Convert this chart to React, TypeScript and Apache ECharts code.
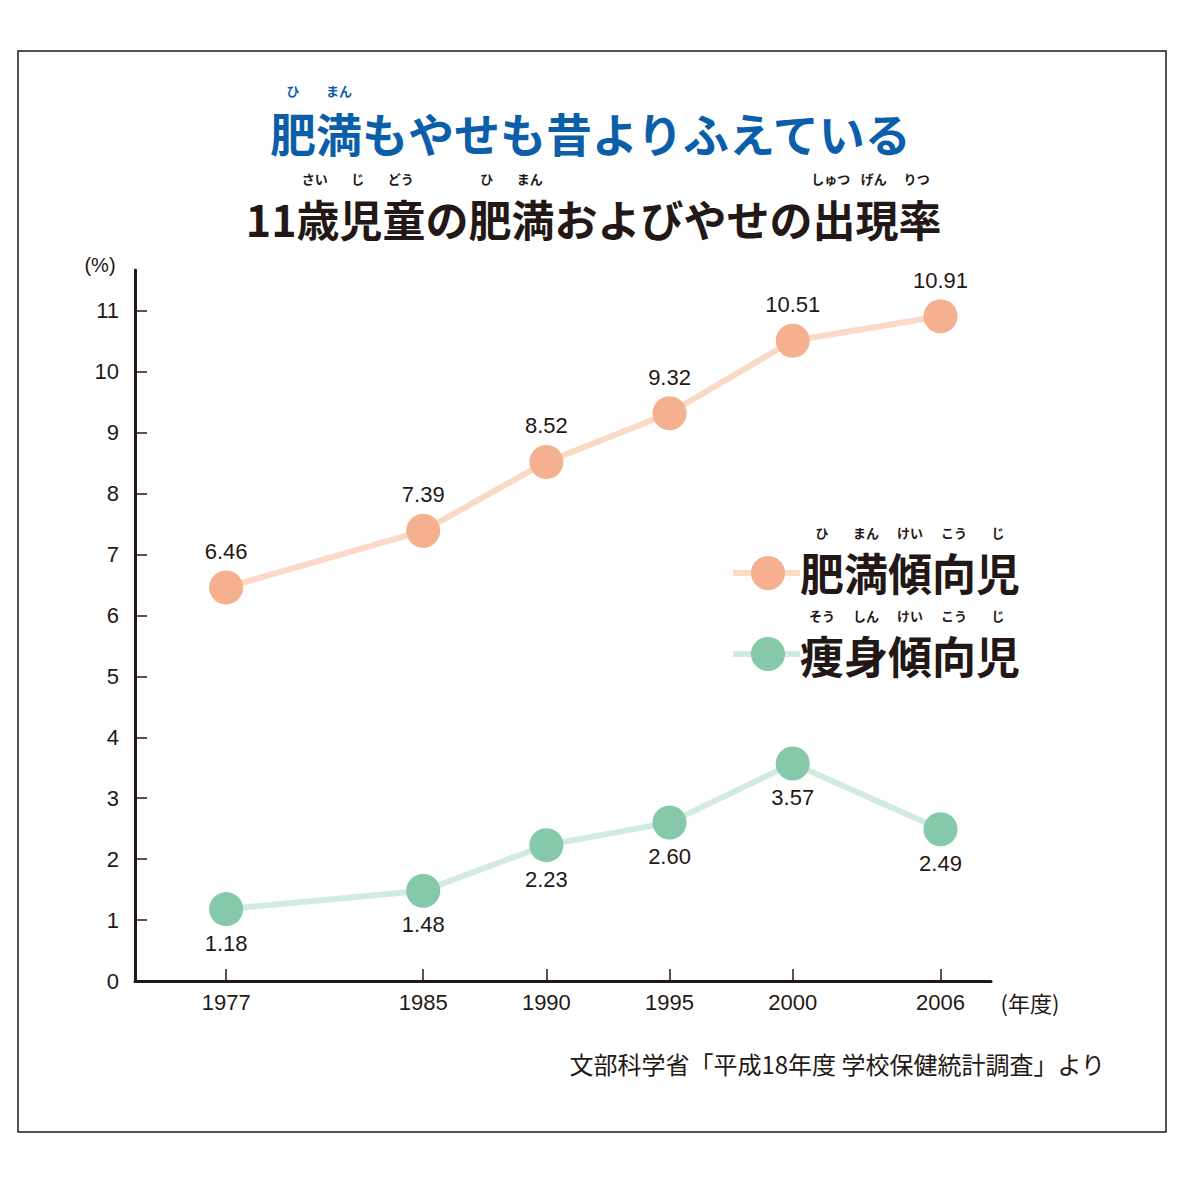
import React, { useEffect, useRef } from 'react';
import * as echarts from 'echarts';

const years = [1977, 1985, 1990, 1995, 2000, 2006];
const obesity = [6.46, 7.39, 8.52, 9.32, 10.51, 10.91];
const slim = [1.18, 1.48, 2.23, 2.6, 3.57, 2.49];
const yTickValues = [0, 1, 2, 3, 4, 5, 6, 7, 8, 9, 10, 11];

const titleText = '肥満もやせも昔よりふえている';
const titleRuby: [number, string][] = [[0, 'ひ'], [1, 'まん']];
const subtitleText = '11歳児童の肥満およびやせの出現率';
const subtitleRuby: [number, string][] = [
  [0, 'さい'], [1, 'じ'], [2, 'どう'], [4, 'ひ'], [5, 'まん'], [12, 'しゅつ'], [13, 'げん'], [14, 'りつ'],
];
const legendObesity = '肥満傾向児';
const legendObesityRuby: [number, string][] = [[0, 'ひ'], [1, 'まん'], [2, 'けい'], [3, 'こう'], [4, 'じ']];
const legendSlim = '痩身傾向児';
const legendSlimRuby: [number, string][] = [[0, 'そう'], [1, 'しん'], [2, 'けい'], [3, 'こう'], [4, 'じ']];
const sourceText = '文部科学省「平成18年度 学校保健統計調査」より';

const INK = '#231815';
const BLUE = '#0B5EAA';
const OB_MARK = '#F4B08F';
const OB_LINE = '#FBD9C7';
const SL_MARK = '#86C8AA';
const SL_LINE = '#D3EAE0';
const JP = '"Noto Sans CJK JP", "Noto Sans", sans-serif';
const LAT = '"Liberation Sans", Arial, sans-serif';

function txt(x: number, y: number, text: string, size: number, opts: any = {}) {
  const align = opts.align || 'center';
  return {
    type: 'text',
    x,
    y,
    silent: true,
    z: 10,
    style: {
      text,
      fill: opts.fill || INK,
      fontSize: size,
      fontFamily: opts.family || JP,
      fontWeight: opts.weight || 'normal',
      align,
      textAlign: align,
      verticalAlign: 'middle',
      textVerticalAlign: 'middle',
    },
  };
}

function ruby(x0: number, F: number, y: number, items: [number, string][], size: number, fill = INK) {
  return items.map(([i, r]) => txt(x0 + (i + 0.5) * F, y, r, size, { fill, weight: 'bold' }));
}

export default function App() {
  const ref = useRef<HTMLDivElement>(null);
  useEffect(() => {
    if (!ref.current) return;
    const chart = echarts.init(ref.current, undefined, { renderer: 'svg' });

    const TF = 46;
    const titleX0 = 592 - (titleText.length * TF) / 2;
    const SF = 43;
    const digitW = 0.55 * SF;
    const subW = 2 * digitW + 15 * SF;
    const subX0 = 592 - subW / 2;
    const subCjkX0 = subX0 + 2 * digitW;
    const LF = 44;
    const legX = 800;
    const RS = 13;

    const graphic: any[] = [
      {
        type: 'rect',
        silent: true,
        shape: { x: 18, y: 51, width: 1148, height: 1081 },
        style: { fill: 'none', stroke: INK, lineWidth: 1.5 },
      },
      txt(titleX0, 132, titleText, TF, { align: 'left', fill: BLUE, weight: 'bold' }),
      ...ruby(titleX0, TF, 90, titleRuby, RS, BLUE),
      txt(subX0, 218, subtitleText, SF, { align: 'left', weight: 'bold' }),
      ...ruby(subCjkX0, SF, 178, subtitleRuby, RS),
      txt(100, 265, '(%)', 20, { family: LAT }),
      txt(1030, 1002, '(年度)', 22, { family: JP }),
      txt(1105, 1063, sourceText, 24, { align: 'right' }),
      // legend: obesity
      { type: 'line', silent: true, shape: { x1: 733, y1: 573, x2: 800, y2: 573 }, style: { stroke: OB_LINE, lineWidth: 6 } },
      { type: 'circle', silent: true, shape: { cx: 768, cy: 573, r: 17 }, style: { fill: OB_MARK } },
      txt(legX, 572, legendObesity, LF, { align: 'left', weight: 'bold' }),
      ...ruby(legX, LF, 532, legendObesityRuby, RS),
      // legend: slim
      { type: 'line', silent: true, shape: { x1: 733, y1: 654, x2: 800, y2: 654 }, style: { stroke: SL_LINE, lineWidth: 6 } },
      { type: 'circle', silent: true, shape: { cx: 768, cy: 654, r: 17 }, style: { fill: SL_MARK } },
      txt(legX, 655, legendSlim, LF, { align: 'left', weight: 'bold' }),
      ...ruby(legX, LF, 615, legendSlimRuby, RS),
    ];

    const labelStyle = {
      show: true,
      fontSize: 22,
      fontFamily: LAT,
      color: INK,
      formatter: (p: any) => Number(p.value[1]).toFixed(2),
    };

    chart.setOption({
      animation: false,
      backgroundColor: '#ffffff',
      grid: { left: 135, top: 270, right: 190, bottom: 200, containLabel: false },
      xAxis: {
        type: 'value',
        min: 1973.3,
        max: 2008.05,
        splitLine: { show: false },
        axisLine: { show: true, lineStyle: { color: INK, width: 3 } },
        axisTick: { show: true, inside: true, length: 12, customValues: years, lineStyle: { color: INK, width: 1.5 } },
        axisLabel: {
          customValues: years,
          formatter: (v: number) => String(v),
          fontSize: 22,
          fontFamily: LAT,
          color: INK,
          margin: 10,
        },
      },
      yAxis: {
        type: 'value',
        min: 0,
        max: 11.67,
        splitLine: { show: false },
        axisLine: { show: true, onZero: false, lineStyle: { color: INK, width: 3 } },
        axisTick: { show: true, inside: true, length: 12, customValues: yTickValues.slice(1), lineStyle: { color: INK, width: 1.5 } },
        axisLabel: {
          customValues: yTickValues,
          formatter: (v: number) => String(v),
          fontSize: 22,
          fontFamily: LAT,
          color: INK,
          margin: 16,
        },
      },
      series: [
        {
          name: legendObesity,
          type: 'line',
          data: years.map((y, i) => [y, obesity[i]]),
          symbol: 'circle',
          symbolSize: 34,
          lineStyle: { color: OB_LINE, width: 6 },
          itemStyle: { color: OB_MARK },
          label: { ...labelStyle, position: 'top', distance: 8 },
          z: 3,
        },
        {
          name: legendSlim,
          type: 'line',
          data: years.map((y, i) => [y, slim[i]]),
          symbol: 'circle',
          symbolSize: 34,
          lineStyle: { color: SL_LINE, width: 6 },
          itemStyle: { color: SL_MARK },
          label: { ...labelStyle, position: 'bottom', distance: 6 },
          z: 3,
        },
      ],
      graphic,
    });
    return () => chart.dispose();
  }, []);

  return (
    <div
      ref={ref}
      style={{ position: 'fixed', left: 0, top: 0, width: 1181, height: 1181, background: '#fff' }}
    />
  );
}
